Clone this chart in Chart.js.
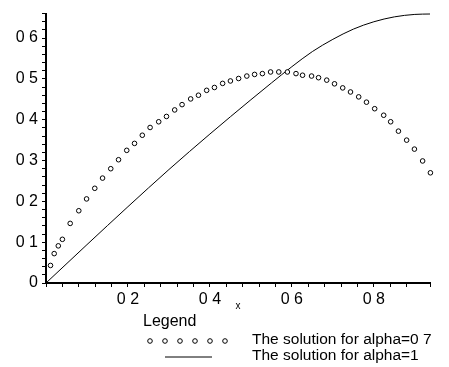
<!DOCTYPE html>
<html>
<head>
<meta charset="utf-8">
<script src="https://cdn.jsdelivr.net/npm/chart.js@4"></script>
<style>
  html, body { margin: 0; padding: 0; background: #fff; }
  #wrap { width: 449px; height: 367px; }
</style>
</head>
<body>
<div id="wrap"><canvas id="myChart"></canvas></div>
<script>
// alpha = 0.7, solver output points
const dotX = [0.011,0.020,0.030,0.040,0.059,0.080,0.099,0.119,0.138,0.158,0.177,
  0.197,0.216,0.235,0.254,0.275,0.294,0.314,0.332,0.353,0.372,
  0.392,0.411,0.431,0.450,0.470,0.490,0.509,
  0.528,0.548,0.568,0.589,0.610,0.626,0.648,0.665,0.685,0.704,
  0.724,0.743,0.763,0.782,0.802,0.824,0.841,0.860,0.880,0.899,
  0.919,0.938];
const dotY = [0.043,0.072,0.091,0.107,0.146,0.177,0.206,0.232,0.257,0.280,0.302,
  0.325,0.342,0.362,0.381,0.395,0.408,0.424,0.437,0.451,0.460,
  0.472,0.479,0.489,0.495,0.501,0.507,0.511,
  0.513,0.517,0.517,0.517,0.513,0.509,0.507,0.503,0.497,0.488,
  0.478,0.468,0.456,0.443,0.427,0.411,0.395,0.372,0.350,0.328,
  0.299,0.270];

// alpha = 1
const lineX = [0,0.1,0.2,0.3,0.4,0.5,0.55,0.6,0.65,0.7,0.75,0.8,0.85,0.9,0.937];
const lineY = [0,0.094,0.187,0.278,0.365,0.449,0.490,0.530,0.567,0.597,0.622,0.640,0.652,0.658,0.659];

const seriesNames = ['The solution for alpha=0 7', 'The solution for alpha=1'];
const legendTitle = 'Legend';
const axisTitle = 'x';

const FONT = 'Liberation Sans';

function pairs(xs, ys) {
  return xs.map((x, i) => ({ x: x, y: ys[i] }));
}

// labels like "0 2" (no decimal point)
function fmt(v) {
  if (Math.abs(v) < 1e-9) return '0';
  return v.toFixed(1).replace('.', ' ');
}

// legend + axis name drawn under the x axis
const bottomLegend = {
  id: 'bottomLegend',
  afterDraw(chart) {
    const ctx = chart.ctx;
    const ds = chart.data.datasets;
    ctx.save();
    ctx.fillStyle = '#000';
    ctx.textBaseline = 'middle';

    ctx.font = '10px ' + FONT;
    ctx.textAlign = 'center';
    const xs = chart.scales.x;
    ctx.fillText(axisTitle, (xs.left + xs.right) / 2, 306);

    ctx.textAlign = 'left';
    ctx.font = '16px ' + FONT;
    ctx.fillText(legendTitle, 143, 322);

    // row 1: circles
    ctx.lineWidth = ds[0].borderWidth;
    ctx.strokeStyle = ds[0].borderColor;
    for (let i = 0; i < 6; i++) {
      ctx.beginPath();
      ctx.arc(150 + i * 15, 341, ds[0].pointRadius, 0, Math.PI * 2);
      ctx.fillStyle = '#fff';
      ctx.fill();
      ctx.stroke();
    }
    ctx.fillStyle = '#000';
    ctx.font = '15.5px ' + FONT;
    ctx.fillText(ds[0].label, 252, 340);

    // row 2: solid line
    ctx.lineWidth = ds[1].borderWidth;
    ctx.strokeStyle = ds[1].borderColor;
    ctx.beginPath();
    ctx.moveTo(165, 357);
    ctx.lineTo(212, 357);
    ctx.stroke();
    ctx.fillText(ds[1].label, 252, 356);
    ctx.restore();
  }
};

const data = {
  datasets: [
    {
      label: seriesNames[0],
      data: pairs(dotX, dotY),
      showLine: false,
      pointStyle: 'circle',
      pointRadius: 2.3,
      pointBorderWidth: 1,
      borderWidth: 1,
      borderColor: '#000',
      pointBorderColor: '#000',
      pointBackgroundColor: '#fff',
      clip: false
    },
    {
      label: seriesNames[1],
      data: pairs(lineX, lineY),
      showLine: true,
      pointRadius: 0,
      borderWidth: 1,
      borderColor: '#000',
      cubicInterpolationMode: 'monotone',
      fill: false,
      clip: false
    }
  ]
};

const config = {
  type: 'scatter',
  data: data,
  options: {
    responsive: true,
    maintainAspectRatio: false,
    animation: false,
    layout: { padding: { left: 0, right: 19, top: 8, bottom: 0 } },
    plugins: {
      legend: { display: false },
      tooltip: { enabled: false }
    },
    scales: {
      x: {
        type: 'linear',
        min: 0,
        max: 0.937,
        afterFit(scale) { scale.height = 84; },
        border: { color: '#000', width: 2 },
        grid: { drawOnChartArea: false, drawTicks: true, tickLength: 4, color: '#000' },
        ticks: {
          stepSize: 0.04,
          autoSkip: false,
          maxRotation: 0,
          padding: 3,
          color: '#000',
          font: { family: FONT, size: 16 },
          callback: function (v) {
            const k = v / 0.2;
            if (v < 1e-9 || Math.abs(k - Math.round(k)) > 1e-6) return '';
            return fmt(v);
          }
        }
      },
      y: {
        type: 'linear',
        min: 0,
        max: 0.66,
        afterFit(scale) { scale.width = 46; },
        border: { color: '#000', width: 2 },
        grid: { drawOnChartArea: false, drawTicks: true, tickLength: 4, color: '#000' },
        ticks: {
          stepSize: 0.02,
          autoSkip: false,
          padding: 4,
          color: '#000',
          font: { family: FONT, size: 16 },
          callback: function (v) {
            const k = v * 10;
            if (Math.abs(k - Math.round(k)) > 1e-6) return '';
            return fmt(v);
          }
        }
      }
    }
  },
  plugins: [bottomLegend]
};

const myChart = new Chart(document.getElementById('myChart'), config);
</script>
</body>
</html>
